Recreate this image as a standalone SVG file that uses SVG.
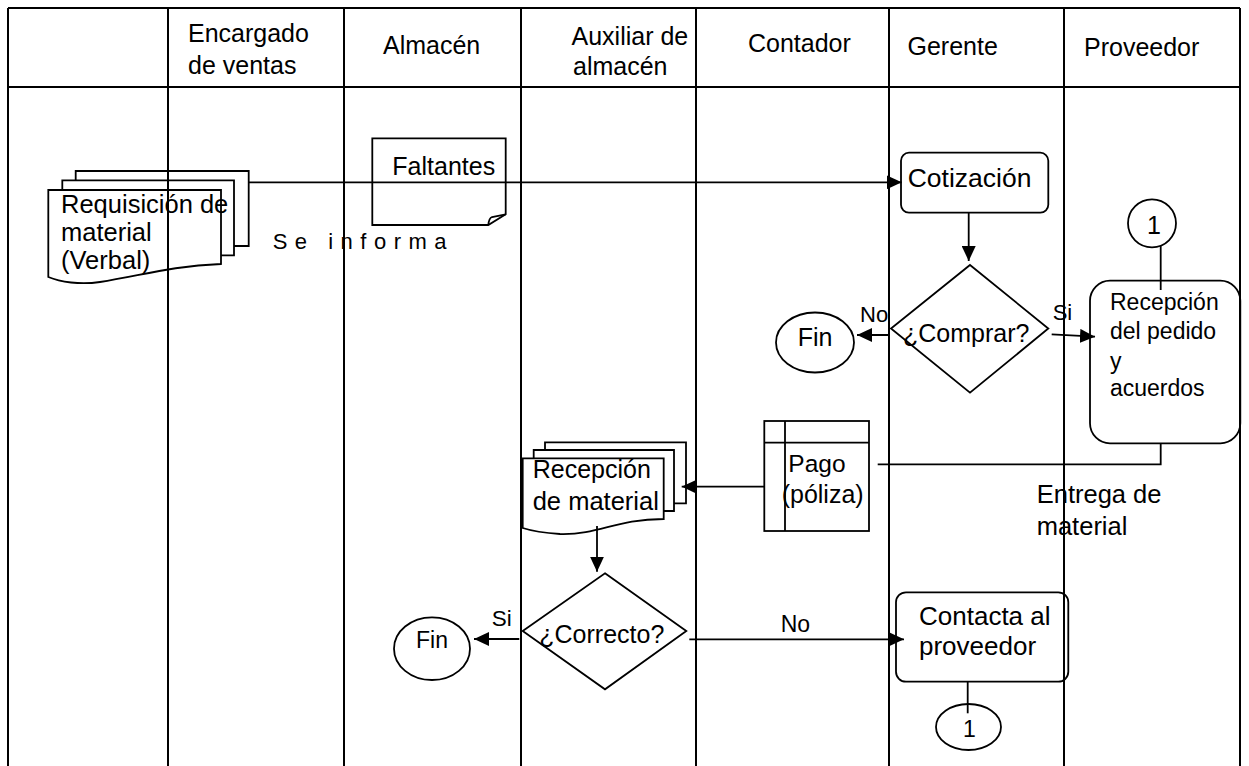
<svg xmlns="http://www.w3.org/2000/svg" width="1249" height="766" viewBox="0 0 1249 766">
<style>
text{font-family:"Liberation Sans",Arial,sans-serif;fill:#000;}
.lane{stroke:#000;stroke-width:2;fill:none;}
.sh{stroke:#000;stroke-width:1.8;fill:none;}
.cn{stroke:#000;stroke-width:1.8;fill:none;}
.h{font-size:25px;}
.b{font-size:25px;}
</style>
<defs>
<marker id="ah" markerUnits="userSpaceOnUse" markerWidth="15" markerHeight="14" refX="15" refY="7" orient="auto">
<path d="M0,0 L15,7 L0,14 Z" fill="#000"/>
</marker>
</defs>
<rect width="1249" height="766" fill="#fff"/>
<g id="table">
<path class="lane" d="M8,8 H1240 M8,87 H1240 M8,8 V766 M168,8 V766 M344,8 V766 M521,8 V766 M696,8 V766 M889,8 V766 M1064,8 V766 M1240,8 V766"/>
<text class="h" x="188" y="42">Encargado</text>
<text class="h" x="188" y="74">de ventas</text>
<text class="h" x="383" y="54">Almacén</text>
<text class="h" x="571.5" y="45">Auxiliar de</text>
<text class="h" x="573" y="75">almacén</text>
<text class="h" x="748" y="52">Contador</text>
<text class="h" x="907.5" y="55">Gerente</text>
<text class="h" x="1084" y="56">Proveedor</text>
</g>
<g id="connectors">
<path class="cn" d="M248.7,182.3 H901.7" marker-end="url(#ah)"/>
<path class="cn" d="M968.7,212.7 V261" marker-end="url(#ah)"/>
<path class="cn" d="M890,335 H857" marker-end="url(#ah)"/>
<path class="cn" d="M1051.7,334.3 L1095,336.7" marker-end="url(#ah)"/>
<path class="cn" d="M1160.7,245.7 V290"/>
<path class="cn" d="M1160.7,443.3 V464.3 H877.7"/>
<path class="cn" d="M764.3,486.7 H681.7" marker-end="url(#ah)"/>
<path class="cn" d="M597,526 V571.7" marker-end="url(#ah)"/>
<path class="cn" d="M519.3,639 H474" marker-end="url(#ah)"/>
<path class="cn" d="M689.3,639.3 H904" marker-end="url(#ah)"/>
<path class="cn" d="M967.7,681.7 V713.3"/>
<text x="272.7" y="249.3" style="font-size:22px;letter-spacing:7.5px">Se informa</text>
<text x="860" y="321.7" style="font-size:22px">No</text>
<text x="1052.7" y="320" style="font-size:22px">Si</text>
<text x="1036.7" y="503.3" style="font-size:25.5px">Entrega de</text>
<text x="1036.7" y="535" style="font-size:25.5px">material</text>
<text x="491.7" y="625.7" style="font-size:22.5px">Si</text>
<text x="780.7" y="631.7" style="font-size:23px">No</text>
</g>
<g id="requisicion">
<path class="sh" d="M75.7,180.3 V171 H248.7 V246 H234"/>
<path class="sh" d="M62.3,190 V180.3 H234 V255.3 H221"/>
<path class="sh" d="M48.3,190 H221 V264 C170,266 140,276 100,282 C80,285 60,282 48.3,277 Z"/>
<text x="61" y="212.7" style="font-size:25.5px">Requisición de</text>
<text x="61" y="241" style="font-size:25.5px">material</text>
<text x="61" y="269" style="font-size:25.5px">(Verbal)</text>
</g>
<g id="faltantes">
<path class="sh" d="M372.3,138.3 H505.7 V214.3 L488.3,225 H372.3 Z"/>
<path class="sh" d="M488.3,225 Q489,218 492,217 L505.7,214.3"/>
<text class="b" x="392.3" y="175">Faltantes</text>
</g>
<g id="cotizacion">
<rect class="sh" x="901" y="152.7" width="147.3" height="60" rx="8"/>
<text x="907.7" y="186.7" style="font-size:26.5px">Cotización</text>
</g>
<g id="comprar">
<path class="sh" d="M970,265 L1048.3,328.5 L970,392.7 L891,328.5 Z"/>
<text class="b" x="903" y="341.7">¿Comprar?</text>
</g>
<g id="fin1">
<ellipse class="sh" cx="815" cy="342.5" rx="39" ry="30"/>
<text class="b" x="815" y="345.7" text-anchor="middle">Fin</text>
</g>
<g id="conector1a">
<circle class="sh" cx="1152" cy="223.3" r="24"/>
<text class="b" x="1154" y="234" text-anchor="middle">1</text>
</g>
<g id="recepcion-pedido">
<rect class="sh" x="1090" y="280.7" width="150.3" height="162.6" rx="20"/>
<text x="1110" y="310" style="font-size:23px">Recepción</text>
<text x="1110" y="339.3" style="font-size:23px">del pedido</text>
<text x="1110" y="368.7" style="font-size:23px">y</text>
<text x="1110" y="396" style="font-size:23px">acuerdos</text>
</g>
<g id="pago">
<rect class="sh" x="764.3" y="421" width="104.7" height="110"/>
<path class="sh" d="M785,421 V531 M764.3,442.7 H869"/>
<text x="788.3" y="471.7" style="font-size:24.5px">Pago</text>
<text x="781.7" y="503.3" style="font-size:25px">(póliza)</text>
</g>
<g id="recepcion-material">
<path class="sh" d="M545,450 V442.3 H686 V503.3 H674"/>
<path class="sh" d="M533.7,458.3 V450 H674 V511 H663.7"/>
<path class="sh" d="M522.7,458.3 H663.7 V519 C615,519 600,535 560,534 C545,533 532,531 522.7,528 Z"/>
<text x="532.7" y="478.3" style="font-size:25px">Recepción</text>
<text x="532.7" y="510" style="font-size:25.5px">de material</text>
</g>
<g id="correcto">
<path class="sh" d="M605,573.3 L686.3,631 L605,689.3 L522.7,631 Z"/>
<text class="b" x="539.3" y="642.7">¿Correcto?</text>
</g>
<g id="fin2">
<ellipse class="sh" cx="432" cy="648.7" rx="38" ry="31.3"/>
<text x="432" y="648.3" text-anchor="middle" style="font-size:23px">Fin</text>
</g>
<g id="contacta">
<rect class="sh" x="896" y="592.3" width="172.3" height="89.4" rx="10"/>
<text x="919" y="625" style="font-size:26px">Contacta al</text>
<text x="919" y="655" style="font-size:26px">proveedor</text>
</g>
<g id="conector1b">
<ellipse class="sh" cx="968.5" cy="727" rx="32.5" ry="23"/>
<text x="969.5" y="736.7" text-anchor="middle" style="font-size:23px">1</text>
</g>
</svg>
